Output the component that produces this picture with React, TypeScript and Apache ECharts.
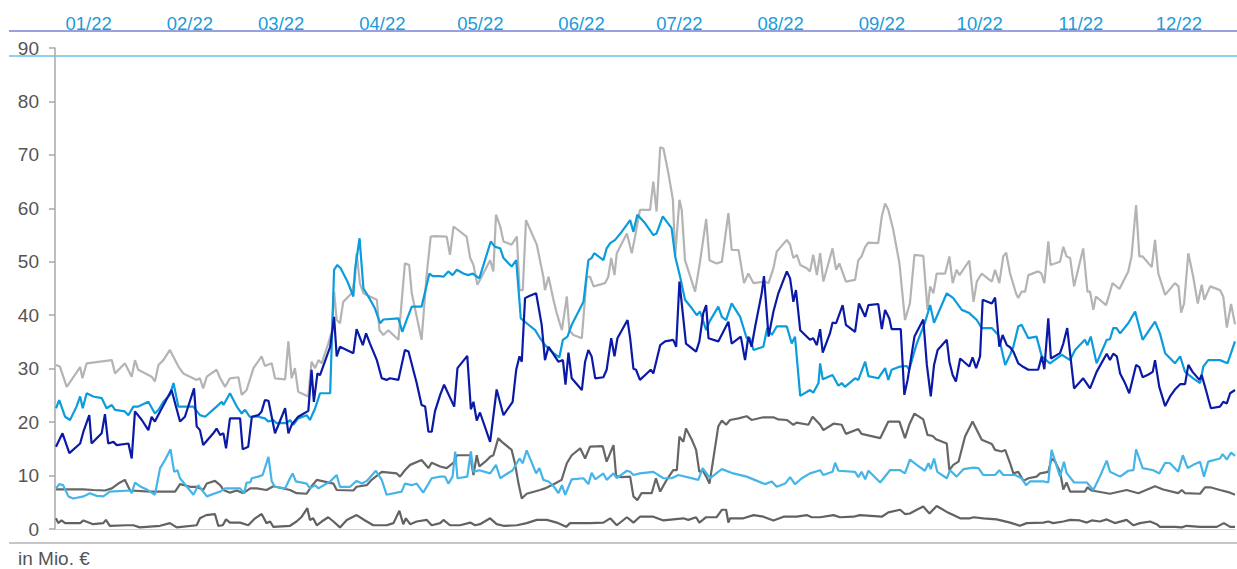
import React, { useEffect, useRef } from "react";
import * as echarts from "echarts";

// x values are day-of-year (0 = 1 Jan 2022)
const monthLabels = ["01/22", "02/22", "03/22", "04/22", "05/22", "06/22", "07/22", "08/22", "09/22", "10/22", "11/22", "12/22"];
const monthStartDays = [0, 31, 59, 90, 120, 151, 181, 212, 243, 273, 304, 334];
const yMin = 0;
const yMax = 90;
const yStep = 10;

const seriesLightGrey: [number, number][] = [[2.0,30.7],[3.2,30.4],[5.3,26.6],[9.4,30.3],[10.1,28.2],[11.4,31.0],[19.1,31.6],[20.1,29.1],[23.1,31.0],[25.2,28.5],[26.2,31.6],[27.2,29.8],[31.3,28.5],[32.3,27.6],[33.4,30.7],[34.9,31.6],[36.9,33.5],[39.5,30.4],[41.0,29.1],[45.1,27.9],[46.1,28.2],[47.1,26.3],[48.2,28.5],[51.2,29.8],[52.3,28.2],[53.8,26.6],[55.3,28.2],[57.9,28.4],[58.9,25.1],[60.4,26.0],[62.5,30.1],[65.0,32.3],[66.0,30.5],[68.1,31.0],[69.1,28.2],[72.2,28.0],[73.2,35.1],[74.2,28.2],[75.2,30.1],[76.2,25.7],[79.3,24.8],[80.3,31.3],[81.4,30.1],[82.4,31.6],[83.4,31.0],[85.4,34.7],[86.5,36.9],[87.2,44.4],[88.0,39.1],[89.0,38.5],[90.0,42.5],[92.6,44.1],[93.6,46.9],[94.1,51.6],[95.1,46.0],[96.2,44.1],[97.2,43.8],[100.3,42.9],[101.1,37.2],[102.3,36.3],[103.8,37.2],[106.9,35.4],[108.9,49.7],[110.2,49.4],[111.0,44.1],[114.0,35.4],[115.6,47.8],[116.8,54.7],[118.1,54.8],[121.7,54.7],[122.7,51.3],[123.8,56.6],[127.8,54.7],[128.9,50.7],[129.9,49.4],[131.1,45.7],[132.4,47.2],[135.0,50.3],[136.0,48.2],[136.8,58.8],[138.1,56.6],[139.1,53.8],[141.6,53.2],[143.2,54.7],[144.0,44.7],[145.0,44.7],[146.0,57.8],[149.3,53.2],[151.3,47.2],[151.8,44.7],[152.9,47.2],[154.4,42.9],[155.4,40.4],[157.0,37.2],[158.5,43.5],[159.3,37.2],[160.5,36.3],[163.1,35.7],[164.6,47.2],[165.6,47.2],[166.7,45.4],[170.2,46.0],[171.2,47.2],[172.1,50.7],[173.1,47.5],[173.8,51.6],[176.9,55.3],[178.4,51.6],[179.4,54.7],[180.9,59.7],[184.0,59.7],[185.0,65.0],[186.0,59.4],[187.1,71.4],[188.1,71.2],[189.6,66.6],[191.0,61.6],[191.7,51.0],[193.0,61.6],[193.7,59.7],[194.7,50.3],[197.8,44.4],[199.3,50.0],[201.2,58.0],[202.2,50.3],[204.4,49.7],[206.0,50.0],[208.0,59.1],[209.0,52.2],[211.1,52.2],[212.8,46.0],[214.1,47.8],[215.7,46.0],[219.2,46.3],[220.3,46.0],[221.8,48.8],[222.8,51.9],[225.9,54.1],[226.9,53.2],[227.9,50.7],[229.0,51.3],[230.0,49.4],[232.0,48.8],[233.0,48.2],[234.0,51.3],[235.1,47.5],[236.1,51.6],[237.1,46.3],[239.9,52.5],[241.0,48.5],[242.0,49.7],[244.0,46.3],[246.8,46.6],[247.8,50.3],[248.8,51.0],[249.9,52.8],[250.9,53.6],[253.9,53.5],[255.0,58.5],[256.0,60.9],[257.0,59.7],[258.5,56.0],[260.4,49.7],[262.1,39.1],[263.6,42.2],[265.0,51.3],[267.7,51.1],[269.0,41.0],[269.8,45.4],[270.8,44.1],[271.8,47.8],[274.4,47.8],[275.7,51.0],[276.7,46.0],[277.9,48.5],[278.8,47.5],[281.8,50.2],[283.1,42.5],[284.1,46.3],[285.6,47.8],[288.7,46.3],[289.7,48.5],[291.0,46.0],[292.2,51.0],[293.1,51.7],[294.3,47.8],[296.1,44.1],[296.8,43.2],[297.8,44.4],[298.9,44.4],[299.9,47.5],[302.9,48.2],[303.9,47.8],[304.8,46.0],[306.0,53.8],[306.7,49.4],[309.6,50.0],[310.6,52.8],[311.6,51.0],[312.7,50.7],[313.9,45.4],[316.7,52.5],[318.0,44.4],[318.8,44.4],[319.8,41.0],[320.6,43.5],[323.7,41.9],[325.7,46.0],[327.8,44.9],[330.5,48.2],[331.5,51.0],[332.9,60.6],[333.9,51.0],[334.9,51.0],[337.7,49.0],[338.7,54.1],[339.7,47.8],[341.8,43.8],[344.8,46.0],[345.9,45.4],[346.7,40.5],[347.6,42.2],[348.9,51.6],[350.4,47.2],[351.8,42.2],[353.0,45.7],[353.8,42.9],[355.6,45.4],[358.6,44.7],[359.6,43.5],[360.7,37.7],[362.0,42.1],[363.2,38.3]];

const seriesBlue: [number, number][] = [[2.0,22.6],[3.0,24.1],[4.8,21.0],[6.3,20.4],[8.3,22.9],[9.4,24.8],[10.2,22.6],[11.4,25.4],[13.4,24.8],[16.0,24.5],[17.5,22.6],[19.1,23.2],[20.1,22.3],[23.1,22.0],[24.2,21.3],[25.7,22.9],[27.2,22.9],[30.3,23.8],[32.3,21.6],[33.4,22.3],[34.9,23.8],[36.9,25.1],[38.0,27.3],[39.5,22.9],[44.1,22.9],[46.1,21.3],[47.7,21.0],[51.2,22.9],[52.8,23.8],[53.3,23.2],[55.3,25.4],[57.4,22.9],[58.9,21.6],[59.9,22.3],[61.4,21.0],[64.0,21.0],[66.0,20.7],[67.1,20.1],[68.6,20.4],[69.6,19.8],[72.7,19.8],[73.7,20.4],[74.7,19.5],[76.2,20.7],[78.8,21.3],[79.8,20.4],[81.4,22.6],[82.9,25.4],[86.0,25.4],[87.2,48.5],[88.2,49.4],[89.2,48.8],[91.3,46.3],[93.1,43.5],[93.6,48.5],[95.0,54.4],[96.2,45.0],[97.7,43.5],[99.7,41.3],[101.3,38.5],[102.3,39.2],[106.9,39.4],[108.1,36.9],[109.4,39.1],[111.0,41.6],[114.0,41.6],[116.4,47.8],[117.4,47.3],[119.7,47.3],[120.7,47.2],[122.2,48.2],[123.5,47.5],[124.8,48.5],[126.8,47.8],[128.3,47.5],[129.7,47.8],[131.7,46.9],[135.2,53.8],[136.5,52.8],[138.1,52.5],[139.1,50.7],[141.6,49.1],[143.0,50.3],[144.4,39.4],[146.2,38.5],[148.8,37.2],[150.3,35.7],[151.8,34.4],[154.4,32.9],[156.2,32.1],[157.3,35.4],[158.7,36.0],[160.0,38.2],[161.5,40.0],[163.6,42.5],[165.1,50.3],[166.1,50.7],[166.9,51.6],[169.7,50.3],[170.7,52.5],[171.8,53.5],[173.3,54.1],[175.3,55.6],[177.9,57.8],[178.9,55.6],[180.1,58.8],[182.5,57.2],[185.0,55.0],[186.0,55.3],[187.9,58.5],[189.1,57.5],[190.6,56.3],[191.7,51.0],[193.2,47.2],[194.7,42.9],[196.8,41.3],[198.3,40.0],[199.3,40.7],[201.2,37.2],[202.2,38.8],[204.9,41.6],[206.0,39.7],[207.3,39.1],[209.0,42.2],[211.6,39.7],[213.6,35.7],[214.6,35.7],[215.7,33.5],[218.7,34.1],[219.9,37.6],[221.3,36.3],[222.8,37.9],[225.9,37.9],[227.4,34.7],[228.4,36.0],[230.0,24.9],[233.0,26.0],[234.0,25.5],[235.6,27.3],[236.1,31.0],[236.9,28.0],[239.9,28.8],[241.7,26.8],[242.7,27.3],[243.7,26.6],[246.8,28.2],[247.8,27.9],[249.9,31.3],[250.9,28.6],[253.9,28.2],[256.0,30.1],[257.0,27.9],[258.0,29.8],[260.6,30.4],[262.6,30.5],[263.4,29.8],[265.7,34.7],[268.2,38.6],[269.8,41.9],[271.0,38.6],[274.9,44.1],[276.9,43.2],[279.5,41.0],[281.8,40.4],[284.1,39.1],[285.6,37.6],[288.7,37.6],[290.7,36.3],[292.8,30.7],[294.3,32.6],[295.3,34.1],[296.8,37.9],[297.8,38.2],[299.9,35.7],[302.4,36.0],[304.0,32.3],[306.5,31.0],[310.1,32.6],[312.7,31.6],[314.2,33.5],[317.2,35.4],[318.0,34.4],[319.0,36.0],[320.8,31.0],[323.9,35.4],[324.9,35.5],[325.9,37.6],[326.9,37.6],[328.0,36.6],[330.5,38.5],[332.6,40.7],[334.9,35.4],[338.7,38.8],[340.2,36.6],[341.8,32.9],[344.8,31.0],[346.4,32.3],[347.9,29.4],[350.4,28.2],[352.5,27.3],[353.5,30.4],[355.0,31.6],[358.6,31.6],[360.9,31.0],[363.2,35.1]];

const seriesNavy: [number, number][] = [[2.0,15.4],[4.0,17.9],[6.1,14.2],[9.4,16.0],[10.4,18.2],[12.2,21.3],[12.9,16.0],[16.0,17.9],[17.0,21.5],[18.0,16.0],[19.6,16.3],[20.6,15.7],[24.2,16.0],[25.2,13.2],[26.2,22.0],[28.3,20.4],[30.3,18.5],[31.3,21.0],[32.3,20.1],[33.9,22.0],[37.4,26.0],[40.0,20.1],[41.5,21.0],[44.3,26.3],[45.1,19.2],[46.1,18.5],[47.1,15.7],[50.2,17.9],[51.2,18.8],[52.3,17.6],[53.3,17.9],[54.1,15.1],[55.3,20.7],[58.4,20.7],[59.2,14.9],[60.9,15.4],[62.0,21.0],[64.0,21.3],[65.0,22.0],[66.0,24.1],[67.1,24.0],[69.1,17.9],[72.2,22.6],[73.2,17.9],[74.2,19.5],[76.2,21.0],[79.3,22.1],[80.3,29.8],[81.0,23.8],[82.1,29.1],[82.9,28.8],[86.0,34.1],[87.2,39.7],[88.0,32.3],[89.0,34.1],[93.1,32.9],[94.1,37.4],[96.0,34.4],[97.0,36.6],[98.2,34.7],[100.3,31.6],[101.8,28.2],[103.3,27.9],[104.3,28.2],[106.9,27.9],[108.9,33.5],[110.0,33.2],[112.5,27.3],[114.0,23.2],[115.1,22.9],[116.1,18.2],[117.1,18.2],[118.1,22.0],[119.7,25.1],[120.9,27.0],[124.0,22.9],[125.0,30.1],[128.0,32.4],[129.1,22.4],[129.9,23.8],[130.9,20.3],[131.9,21.8],[135.0,16.3],[137.0,26.1],[139.1,21.3],[141.9,23.8],[143.0,29.8],[144.0,32.3],[144.7,31.3],[145.7,43.2],[147.0,43.6],[149.1,44.1],[150.8,38.2],[151.8,31.6],[152.9,34.1],[155.9,31.3],[157.3,31.6],[158.1,27.0],[159.0,33.0],[160.0,28.2],[163.1,26.0],[164.1,31.3],[165.1,33.5],[166.1,32.3],[167.2,28.2],[169.7,28.4],[170.7,29.8],[172.1,35.7],[173.1,32.3],[174.0,35.7],[177.1,39.1],[177.9,35.7],[178.9,30.0],[179.7,29.8],[180.9,27.9],[183.0,29.1],[184.2,29.8],[185.0,29.1],[187.1,34.4],[188.6,35.1],[191.1,35.4],[192.0,34.1],[193.0,46.3],[195.0,34.7],[198.1,33.2],[199.1,35.1],[200.3,40.4],[201.2,41.9],[201.9,35.7],[204.9,35.1],[208.0,38.8],[209.0,34.7],[211.8,36.0],[213.1,31.6],[214.1,36.0],[215.1,34.1],[216.2,37.9],[218.2,44.1],[218.9,47.3],[220.3,36.0],[221.8,40.7],[223.3,44.1],[225.9,48.2],[226.9,46.9],[227.9,42.5],[228.7,44.7],[230.0,37.2],[233.0,35.4],[234.0,35.7],[235.1,34.4],[236.1,37.4],[236.9,33.0],[239.1,36.6],[239.9,38.6],[241.0,38.5],[243.0,41.9],[244.0,38.2],[246.8,36.9],[248.0,42.2],[249.9,39.7],[250.9,41.9],[253.9,42.1],[255.0,37.4],[256.0,41.0],[257.3,39.4],[258.0,37.4],[260.8,37.4],[261.9,25.1],[262.9,27.9],[265.0,36.0],[267.7,39.2],[268.8,30.7],[270.0,24.8],[271.0,30.7],[272.1,33.5],[274.9,35.4],[275.7,31.3],[276.7,28.8],[277.7,27.6],[279.0,31.9],[281.8,30.4],[282.8,32.1],[283.9,30.1],[285.1,32.3],[285.9,42.9],[288.7,42.2],[289.7,43.3],[291.0,34.1],[292.0,36.3],[293.3,34.4],[294.3,34.0],[295.3,33.2],[296.8,31.0],[298.4,30.3],[299.9,29.8],[302.9,29.8],[304.0,32.3],[304.8,29.9],[306.0,39.4],[306.8,31.9],[309.6,32.9],[310.6,34.7],[311.8,37.6],[313.9,26.3],[316.7,28.2],[318.8,26.3],[320.8,29.4],[323.9,32.8],[324.9,31.6],[325.9,32.8],[327.0,32.3],[328.0,29.1],[329.5,27.3],[330.8,25.4],[332.9,30.7],[333.9,30.3],[334.9,28.4],[336.7,28.9],[338.0,29.4],[338.7,31.6],[340.0,26.6],[341.8,23.0],[343.3,24.8],[344.8,26.1],[346.4,27.1],[347.9,27.1],[348.9,30.7],[350.2,29.4],[352.3,27.9],[353.0,28.8],[354.3,26.0],[355.8,22.6],[358.6,22.9],[359.6,23.8],[360.7,23.5],[361.7,25.4],[363.2,26.0]];

const seriesDarkGrey: [number, number][] = [[2.0,7.4],[5.8,7.4],[10.4,7.4],[13.4,7.3],[17.0,7.2],[19.1,7.6],[21.1,8.5],[23.1,9.2],[24.7,7.2],[30.8,7.0],[38.5,7.0],[40.0,8.4],[43.1,7.9],[45.1,7.9],[47.1,7.3],[48.2,8.5],[50.7,9.0],[52.3,8.2],[53.3,7.3],[55.3,6.8],[57.4,7.2],[59.4,6.7],[61.5,7.6],[63.5,7.6],[66.5,7.3],[68.6,8.0],[73.7,7.3],[75.7,6.7],[78.8,6.6],[80.3,8.0],[81.9,9.2],[87.0,8.5],[88.0,7.3],[93.1,7.2],[94.1,7.9],[97.2,8.2],[98.7,9.2],[101.8,10.7],[106.4,10.4],[107.4,9.8],[108.9,11.0],[110.5,12.0],[114.0,12.9],[116.1,11.4],[117.1,12.4],[119.7,11.7],[121.7,11.4],[123.8,12.4],[124.8,13.8],[128.9,13.8],[129.9,10.1],[130.9,13.8],[131.7,11.7],[133.5,12.6],[135.0,13.5],[136.0,13.8],[137.5,17.0],[138.6,16.3],[141.6,14.8],[142.6,12.3],[143.7,8.5],[144.7,5.7],[146.2,6.6],[150.3,7.3],[151.8,7.6],[154.9,8.5],[156.9,9.2],[158.5,12.3],[160.0,13.8],[162.6,15.1],[164.1,13.2],[165.6,15.4],[169.5,15.5],[170.7,12.6],[172.8,15.7],[173.6,9.9],[175.3,9.7],[177.9,9.8],[178.9,6.1],[180.1,5.4],[181.4,6.7],[184.5,6.7],[185.8,9.5],[187.1,7.0],[189.1,9.2],[191.1,11.0],[192.2,11.0],[193.0,17.3],[194.2,16.3],[195.0,18.8],[196.8,16.7],[198.1,14.8],[199.1,10.7],[200.1,11.0],[201.2,9.8],[202.2,8.5],[203.4,13.2],[204.9,19.2],[206.0,20.3],[207.3,19.5],[208.5,20.4],[211.1,20.7],[213.6,21.1],[215.1,20.4],[218.7,20.9],[221.8,20.9],[223.3,20.5],[225.9,20.4],[227.9,19.5],[228.9,19.9],[232.5,19.5],[233.8,21.0],[236.1,19.5],[237.1,18.5],[240.2,19.7],[242.7,19.5],[244.0,17.8],[247.8,18.7],[248.8,17.8],[254.5,17.0],[257.0,20.1],[260.4,20.1],[262.1,17.0],[263.4,19.5],[265.0,21.6],[267.7,20.5],[269.0,17.6],[270.6,17.4],[271.6,16.8],[274.9,16.0],[275.7,11.0],[276.9,12.0],[278.5,12.6],[280.5,17.3],[282.8,20.1],[285.6,16.7],[288.7,15.9],[289.7,14.8],[291.7,14.5],[292.8,14.8],[294.3,12.3],[295.3,10.4],[296.8,10.7],[298.4,9.0],[299.9,9.5],[302.4,9.8],[303.5,10.4],[306.0,10.7],[307.0,13.2],[308.1,12.6],[309.6,10.7],[310.6,7.4],[311.6,8.7],[312.7,7.0],[317.2,7.0],[318.0,7.8],[319.3,7.2],[324.9,6.6],[330.0,7.3],[333.6,6.7],[338.7,8.0],[341.2,7.4],[345.8,6.7],[346.9,7.3],[347.9,6.7],[352.5,6.6],[354.0,7.8],[355.6,7.8],[358.6,7.3],[361.7,6.8],[363.2,6.4]];

const seriesSky: [number, number][] = [[2.0,7.6],[3.0,8.4],[4.2,8.2],[5.8,6.1],[7.3,5.7],[10.4,6.1],[12.4,6.7],[14.5,6.2],[16.5,6.1],[18.5,7.0],[24.7,7.2],[25.2,6.7],[26.2,8.7],[27.7,8.0],[29.8,7.4],[32.3,6.4],[33.9,11.4],[35.4,12.9],[37.1,14.9],[38.2,10.7],[39.2,11.0],[40.0,9.5],[44.1,6.4],[45.6,8.2],[48.2,6.1],[52.3,7.0],[53.8,7.6],[58.4,7.6],[59.6,6.7],[60.4,8.7],[61.5,8.7],[62.0,9.5],[64.0,9.8],[65.3,10.1],[67.1,13.5],[68.1,8.9],[69.1,7.9],[72.2,7.6],[73.7,9.5],[74.5,10.4],[75.5,8.9],[78.8,8.5],[79.8,7.6],[81.4,8.2],[82.4,7.6],[86.0,8.9],[88.0,10.1],[89.0,7.9],[92.1,7.9],[94.1,9.0],[95.7,8.5],[97.2,9.0],[100.0,10.9],[101.8,9.2],[103.3,6.4],[107.9,7.0],[108.9,8.5],[111.0,8.2],[112.5,8.5],[114.5,6.8],[117.1,9.5],[119.7,9.8],[121.2,9.8],[122.2,8.5],[123.5,9.8],[124.3,14.5],[125.0,9.5],[128.0,9.8],[129.1,14.5],[129.9,10.7],[131.7,11.0],[135.0,10.4],[136.8,12.0],[138.1,9.5],[139.6,10.1],[141.9,11.0],[144.0,13.2],[145.0,12.3],[146.2,14.7],[149.1,10.4],[150.1,11.4],[151.3,9.2],[152.9,8.9],[154.6,7.9],[155.9,6.7],[157.0,8.2],[158.0,6.4],[160.0,9.3],[163.6,9.5],[165.1,8.4],[166.1,10.5],[167.2,9.3],[169.7,10.4],[170.7,9.2],[172.8,10.4],[173.8,9.5],[176.9,10.9],[177.9,10.7],[178.9,10.1],[180.9,10.4],[185.0,10.7],[188.1,9.5],[190.6,9.5],[192.7,10.1],[198.8,9.2],[200.1,11.4],[202.4,9.5],[206.0,11.2],[209.5,10.4],[213.6,9.8],[219.2,8.4],[221.3,8.9],[222.8,7.9],[225.4,8.5],[226.9,9.7],[228.4,8.4],[230.5,9.5],[233.0,10.4],[236.1,11.0],[237.1,10.1],[239.9,10.7],[240.7,12.4],[241.7,10.9],[246.8,10.7],[247.8,9.7],[248.8,10.7],[249.9,9.3],[250.9,10.9],[254.5,8.7],[257.5,11.0],[260.6,11.0],[262.1,10.4],[263.6,13.0],[265.7,12.0],[268.2,10.9],[269.3,12.3],[270.0,11.2],[271.0,13.2],[272.0,10.7],[274.9,9.5],[275.9,11.0],[277.9,9.8],[280.0,11.2],[283.1,11.5],[284.6,11.4],[286.1,10.1],[289.7,10.1],[291.0,11.0],[292.2,10.1],[294.3,10.1],[295.8,10.1],[297.8,9.5],[299.2,8.2],[300.4,8.9],[304.5,8.9],[306.0,8.7],[307.0,14.8],[309.6,9.8],[310.8,12.6],[311.6,10.5],[313.9,8.7],[317.8,8.7],[319.8,7.3],[321.8,9.8],[323.9,12.8],[324.9,10.7],[328.0,9.8],[330.5,10.9],[332.1,11.0],[332.9,14.9],[334.9,11.4],[338.2,11.0],[340.0,10.4],[341.8,12.4],[343.3,12.3],[345.8,10.7],[347.2,13.8],[348.7,11.4],[350.4,12.0],[352.5,12.6],[353.7,9.8],[355.0,12.6],[358.6,13.2],[359.4,14.0],[360.7,13.0],[362.0,14.3],[363.2,13.7]];

const seriesLowGrey: [number, number][] = [[2.0,2.0],[2.7,1.1],[3.7,1.6],[4.8,1.1],[9.4,1.1],[10.4,1.6],[13.4,0.9],[16.5,1.1],[17.3,1.7],[18.5,0.6],[23.7,0.7],[25.7,0.7],[27.7,0.3],[33.9,0.6],[36.9,1.1],[39.0,0.3],[45.1,0.7],[46.1,2.0],[48.0,2.6],[50.7,2.8],[51.7,0.6],[53.1,0.7],[54.1,1.8],[55.3,1.2],[58.4,1.2],[60.9,0.7],[63.0,2.0],[65.0,2.8],[66.5,1.1],[67.6,1.4],[68.6,0.4],[73.7,0.6],[75.7,1.4],[77.3,2.3],[79.0,3.9],[79.8,1.7],[80.8,2.0],[81.9,0.7],[83.4,1.4],[85.4,2.2],[87.0,1.4],[89.0,0.3],[91.1,1.7],[94.1,2.6],[96.7,1.6],[99.2,0.7],[103.3,0.7],[105.4,1.1],[107.2,3.4],[108.4,0.9],[109.2,2.0],[110.5,0.9],[112.5,1.4],[115.6,1.7],[117.1,0.7],[119.7,1.1],[120.7,1.7],[122.7,0.7],[125.8,0.7],[128.9,1.2],[130.4,0.7],[131.9,0.9],[135.0,2.0],[137.0,0.9],[139.1,0.6],[143.2,0.7],[146.2,1.1],[149.3,1.7],[152.4,1.7],[155.4,1.2],[158.3,0.4],[159.5,1.1],[165.6,1.1],[169.7,1.2],[171.8,2.0],[173.8,0.7],[176.9,2.2],[177.9,1.7],[178.9,1.2],[180.9,2.3],[185.0,2.3],[188.1,1.6],[191.1,1.8],[194.2,2.0],[195.7,1.7],[198.1,2.2],[199.1,1.2],[201.2,2.2],[204.4,2.2],[206.0,3.6],[207.3,3.6],[208.0,1.2],[208.5,2.0],[212.6,2.0],[215.7,2.6],[218.7,2.3],[221.8,1.6],[224.9,2.3],[228.9,2.3],[232.0,2.6],[233.5,2.2],[236.1,2.2],[240.2,2.6],[242.2,2.2],[246.3,2.3],[248.3,2.6],[255.0,2.3],[257.0,3.1],[260.6,3.6],[262.1,2.8],[263.6,2.9],[265.7,3.6],[267.7,4.2],[269.6,2.9],[271.8,4.3],[274.9,3.2],[276.9,2.6],[279.0,2.0],[282.0,2.0],[283.1,2.2],[286.1,2.0],[290.2,1.8],[294.3,1.2],[297.3,0.6],[299.4,1.1],[304.5,1.2],[306.0,1.4],[307.5,1.1],[310.6,1.4],[312.7,1.7],[315.7,1.6],[317.8,1.2],[319.3,1.6],[321.8,1.4],[323.9,1.8],[326.4,1.1],[330.0,1.7],[332.1,0.7],[334.1,1.1],[337.2,1.4],[339.2,0.9],[340.2,0.4],[344.8,0.4],[346.9,0.3],[348.4,0.6],[352.5,0.4],[357.6,0.4],[359.8,1.1],[361.7,0.4],[363.2,0.4]];

const FONT = "'Liberation Sans', Arial, Helvetica, sans-serif";

export default function App() {
  const ref = useRef<HTMLDivElement>(null);
  useEffect(() => {
    if (!ref.current) return;
    const chart = echarts.init(ref.current, null, { renderer: "svg" });
    const labelDays = monthStartDays.map((d) => d + 12);
    const line = (data: [number, number][], color: string) => ({
      type: "line",
      data,
      showSymbol: false,
      symbol: "none",
      lineStyle: { color, width: 2.2 },
      itemStyle: { color },
    });
    chart.setOption({
      animation: false,
      grid: { left: 55, right: 2, top: 48, bottom: 40, containLabel: false },
      xAxis: [
        {
          type: "value",
          min: 1.7,
          max: 363.2,
          axisLine: { show: true, onZero: false, lineStyle: { color: "#d0d0d0", width: 1 } },
          axisTick: { show: false },
          axisLabel: { show: false },
          splitLine: { show: false },
        },
        {
          type: "value",
          position: "top",
          offset: 17,
          min: 1.7,
          max: 363.2,
          axisLine: { show: false },
          axisTick: { show: false },
          splitLine: { show: false },
          axisLabel: {
            show: true,
            customValues: labelDays,
            formatter: (v: number) => {
              const i = labelDays.findIndex((p) => Math.abs(p - v) < 0.5);
              return i >= 0 ? monthLabels[i] : "";
            },
            color: "#1b9bd8",
            fontSize: 18.5,
            fontFamily: FONT,
            margin: -2,
          },
        },
      ],
      yAxis: {
        type: "value",
        min: yMin,
        max: yMax,
        interval: yStep,
        axisLine: { show: true, lineStyle: { color: "#a8a8a8", width: 1.5 } },
        axisTick: { show: true, length: 6, lineStyle: { color: "#a8a8a8", width: 1.5 } },
        axisLabel: { color: "#555555", fontSize: 19, fontFamily: FONT, margin: 16 },
        splitLine: { show: false },
      },
      graphic: [
        { type: "line", silent: true, shape: { x1: 9, y1: 31, x2: 1237, y2: 31 }, style: { stroke: "#3347c4", lineWidth: 1.2 } },
        { type: "line", silent: true, shape: { x1: 9, y1: 56, x2: 1237, y2: 56 }, style: { stroke: "#1aa0e0", lineWidth: 1.2 } },
        { type: "line", silent: true, shape: { x1: 9, y1: 543, x2: 1237, y2: 543 }, style: { stroke: "#8f8f8f", lineWidth: 1.2 } },
        {
          type: "text",
          silent: true,
          left: 18,
          top: 549,
          style: { text: "in Mio. €", fill: "#555555", font: `19px ${FONT}`, lineHeight: 19 },
        },
      ],
      series: [
        line(seriesLightGrey, "#b4b4b4"),
        line(seriesDarkGrey, "#666666"),
        line(seriesLowGrey, "#616161"),
        line(seriesSky, "#45b4e8"),
        line(seriesBlue, "#0a9cdc"),
        line(seriesNavy, "#0b1aa6"),
      ],
    });
    return () => chart.dispose();
  }, []);
  return (
    <div
      ref={ref}
      style={{ position: "absolute", left: 0, top: 0, width: 1237, height: 569, background: "#ffffff" }}
    />
  );
}
